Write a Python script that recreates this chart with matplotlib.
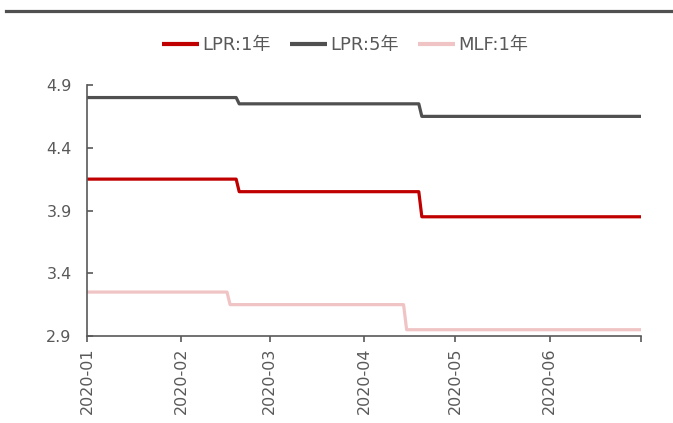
import matplotlib
matplotlib.use("Agg")
import matplotlib.pyplot as plt
import pandas as pd
from matplotlib.lines import Line2D

plt.rcParams['font.family'] = ['DejaVu Sans', 'Noto Sans CJK SC']

# Policy rate change points (%)
lpr1_dates = ["2020-01-01", "2020-02-19", "2020-02-20", "2020-04-19", "2020-04-20", "2020-07-01"]
lpr1_values = [4.15, 4.15, 4.05, 4.05, 3.85, 3.85]

lpr5_dates = ["2020-01-01", "2020-02-19", "2020-02-20", "2020-04-19", "2020-04-20", "2020-07-01"]
lpr5_values = [4.80, 4.80, 4.75, 4.75, 4.65, 4.65]

mlf1_dates = ["2020-01-01", "2020-02-16", "2020-02-17", "2020-04-14", "2020-04-15", "2020-07-01"]
mlf1_values = [3.25, 3.25, 3.15, 3.15, 2.95, 2.95]

series_names = ["LPR:1年", "LPR:5年", "MLF:1年"]
series_colors = ["#C00000", "#505050", "#F0C4C4"]

month_ticks = ["2020-01-01", "2020-02-01", "2020-03-01", "2020-04-01",
               "2020-05-01", "2020-06-01", "2020-07-01"]
month_labels = ["2020-01", "2020-02", "2020-03", "2020-04", "2020-05", "2020-06", ""]
y_ticks = [2.9, 3.4, 3.9, 4.4, 4.9]

text_color = "#595959"

fig = plt.figure(figsize=(6.73, 4.23), dpi=100)
ax = fig.add_axes([87 / 673, 1 - 336 / 423, (641 - 87) / 673, (336 - 85) / 423])

for dates, vals, name, color in zip(
        [lpr1_dates, lpr5_dates, mlf1_dates],
        [lpr1_values, lpr5_values, mlf1_values],
        series_names, series_colors):
    ax.plot(pd.to_datetime(dates), vals, color=color, lw=2.3, label=name,
            solid_joinstyle="round", solid_capstyle="butt")

ax.set_xlim(pd.Timestamp("2020-01-01"), pd.Timestamp("2020-07-01"))
ax.set_ylim(2.9, 4.9)
ax.set_yticks(y_ticks)
ax.set_yticklabels([f"{v:.1f}" for v in y_ticks])
ax.set_xticks(pd.to_datetime(month_ticks))
ax.set_xticklabels(month_labels, rotation=90)

for side in ("top", "right"):
    ax.spines[side].set_visible(False)
for side in ("left", "bottom"):
    ax.spines[side].set_color(text_color)
    ax.spines[side].set_linewidth(1.2)

ax.tick_params(axis="y", direction="in", length=4, width=1.2, color=text_color,
               labelcolor=text_color, labelsize=11.5, pad=11)
ax.tick_params(axis="x", direction="out", length=4.5, width=1.2, color=text_color,
               labelcolor=text_color, labelsize=11.5, pad=4)

leg = fig.legend(loc="center", bbox_to_anchor=(345 / 673, 1 - 45 / 423), ncol=3,
                 frameon=False, fontsize=13, handlelength=2.05, handletextpad=0.15,
                 columnspacing=1.1, labelcolor=text_color)
for h in leg.get_lines():
    h.set_linewidth(3)

# Header rule across the top of the figure
fig.add_artist(Line2D([6 / 673, 1.0], [1 - 11.5 / 423] * 2, color="#505050",
                      lw=2.3, transform=fig.transFigure))

fig.savefig("out.png", dpi=100)
